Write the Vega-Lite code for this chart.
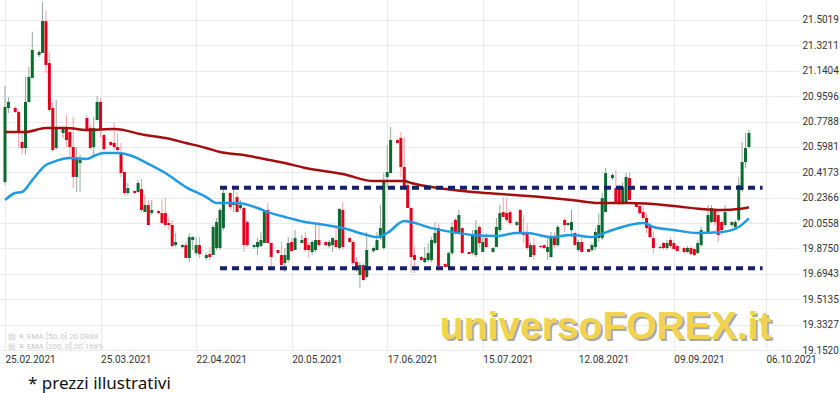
{
  "$schema": "https://vega.github.io/schema/vega-lite/v6.json",
  "width": 771,
  "height": 350,
  "autosize": {"type": "none"},
  "padding": {"left": 0, "top": 0, "right": 69, "bottom": 43},
  "background": "white",
  "config": {"view": {"stroke": null}, "font": "Roboto", "axis": {"labelOverlap": false}},
  "title": {"text": "* prezzi illustrativi", "orient": "bottom", "anchor": "start", "dx": 28, "offset": 12, "fontSize": 17, "font": "Noto Sans", "fontWeight": "normal", "color": "#111111"},
  "resolve": {"axis": {"x": "independent", "y": "independent"}},
  "datasets": {
    "candles": [
      {"date":"2021-02-25","open":20.348,"high":21.032,"low":20.327,"close":20.882},
      {"date":"2021-02-26","open":20.875,"high":20.953,"low":20.839,"close":20.918},
      {"date":"2021-02-28","open":20.875,"high":20.889,"low":20.839,"close":20.846},
      {"date":"2021-03-01","open":20.846,"high":20.861,"low":20.590,"close":20.704},
      {"date":"2021-03-02","open":20.633,"high":20.697,"low":20.547,"close":20.590},
      {"date":"2021-03-03","open":20.590,"high":21.096,"low":20.540,"close":20.918},
      {"date":"2021-03-04","open":20.918,"high":21.167,"low":20.918,"close":21.096},
      {"date":"2021-03-05","open":21.089,"high":21.416,"low":21.089,"close":21.288},
      {"date":"2021-03-07","open":21.252,"high":21.288,"low":21.238,"close":21.274},
      {"date":"2021-03-08","open":21.267,"high":21.630,"low":21.267,"close":21.494},
      {"date":"2021-03-09","open":21.494,"high":21.566,"low":21.124,"close":21.181},
      {"date":"2021-03-10","open":21.195,"high":21.274,"low":20.846,"close":20.861},
      {"date":"2021-03-11","open":20.875,"high":20.918,"low":20.562,"close":20.576},
      {"date":"2021-03-12","open":20.590,"high":20.932,"low":20.576,"close":20.733},
      {"date":"2021-03-14","open":20.697,"high":20.740,"low":20.661,"close":20.733},
      {"date":"2021-03-15","open":20.733,"high":20.825,"low":20.597,"close":20.647},
      {"date":"2021-03-16","open":20.704,"high":20.718,"low":20.526,"close":20.597},
      {"date":"2021-03-17","open":20.597,"high":20.811,"low":20.305,"close":20.384},
      {"date":"2021-03-18","open":20.384,"high":20.597,"low":20.277,"close":20.519},
      {"date":"2021-03-19","open":20.483,"high":20.540,"low":20.277,"close":20.505},
      {"date":"2021-03-21","open":20.804,"high":20.825,"low":20.704,"close":20.711},
      {"date":"2021-03-22","open":20.733,"high":20.754,"low":20.576,"close":20.590},
      {"date":"2021-03-23","open":20.597,"high":20.811,"low":20.540,"close":20.733},
      {"date":"2021-03-24","open":20.789,"high":20.960,"low":20.789,"close":20.918},
      {"date":"2021-03-25","open":20.918,"high":20.946,"low":20.668,"close":20.718},
      {"date":"2021-03-26","open":20.683,"high":20.697,"low":20.569,"close":20.583},
      {"date":"2021-03-28","open":20.633,"high":20.640,"low":20.604,"close":20.611},
      {"date":"2021-03-29","open":20.626,"high":20.775,"low":20.576,"close":20.597},
      {"date":"2021-03-30","open":20.597,"high":20.697,"low":20.555,"close":20.576},
      {"date":"2021-03-31","open":20.555,"high":20.626,"low":20.384,"close":20.412},
      {"date":"2021-04-01","open":20.419,"high":20.419,"low":20.255,"close":20.270},
      {"date":"2021-04-02","open":20.270,"high":20.341,"low":20.255,"close":20.305},
      {"date":"2021-04-04","open":20.284,"high":20.291,"low":20.263,"close":20.270},
      {"date":"2021-04-05","open":20.277,"high":20.362,"low":20.270,"close":20.341},
      {"date":"2021-04-06","open":20.298,"high":20.369,"low":20.134,"close":20.149},
      {"date":"2021-04-07","open":20.134,"high":20.255,"low":20.134,"close":20.184},
      {"date":"2021-04-08","open":20.184,"high":20.220,"low":20.042,"close":20.042},
      {"date":"2021-04-09","open":20.127,"high":20.220,"low":20.113,"close":20.149},
      {"date":"2021-04-11","open":20.141,"high":20.149,"low":20.120,"close":20.127},
      {"date":"2021-04-12","open":20.127,"high":20.220,"low":20.049,"close":20.056},
      {"date":"2021-04-13","open":20.127,"high":20.234,"low":20.028,"close":20.042},
      {"date":"2021-04-14","open":20.056,"high":20.092,"low":20.006,"close":20.042},
      {"date":"2021-04-15","open":20.042,"high":20.078,"low":19.885,"close":19.892},
      {"date":"2021-04-16","open":19.899,"high":19.985,"low":19.885,"close":19.921},
      {"date":"2021-04-18","open":19.885,"high":19.906,"low":19.878,"close":19.899},
      {"date":"2021-04-19","open":19.899,"high":19.921,"low":19.807,"close":19.807},
      {"date":"2021-04-20","open":19.807,"high":19.985,"low":19.778,"close":19.956},
      {"date":"2021-04-21","open":19.935,"high":19.963,"low":19.864,"close":19.956},
      {"date":"2021-04-22","open":19.842,"high":19.956,"low":19.828,"close":19.899},
      {"date":"2021-04-23","open":19.899,"high":19.956,"low":19.807,"close":19.835},
      {"date":"2021-04-25","open":19.807,"high":19.842,"low":19.793,"close":19.828},
      {"date":"2021-04-26","open":19.835,"high":19.885,"low":19.793,"close":19.814},
      {"date":"2021-04-27","open":19.828,"high":20.042,"low":19.828,"close":20.028},
      {"date":"2021-04-28","open":19.878,"high":20.092,"low":19.864,"close":20.063},
      {"date":"2021-04-29","open":19.878,"high":20.163,"low":19.864,"close":20.149},
      {"date":"2021-04-30","open":20.020,"high":20.305,"low":20.006,"close":20.270},
      {"date":"2021-05-02","open":20.270,"high":20.277,"low":20.149,"close":20.170},
      {"date":"2021-05-03","open":20.184,"high":20.291,"low":20.134,"close":20.206},
      {"date":"2021-05-04","open":20.241,"high":20.277,"low":20.134,"close":20.134},
      {"date":"2021-05-05","open":20.163,"high":20.220,"low":20.149,"close":20.184},
      {"date":"2021-05-06","open":20.163,"high":20.170,"low":19.850,"close":19.899},
      {"date":"2021-05-07","open":20.063,"high":20.078,"low":19.885,"close":19.899},
      {"date":"2021-05-09","open":19.885,"high":19.906,"low":19.871,"close":19.899},
      {"date":"2021-05-10","open":19.885,"high":19.949,"low":19.828,"close":19.921},
      {"date":"2021-05-11","open":19.892,"high":19.992,"low":19.885,"close":19.935},
      {"date":"2021-05-12","open":19.914,"high":20.149,"low":19.914,"close":20.141},
      {"date":"2021-05-13","open":20.149,"high":20.198,"low":19.914,"close":19.914},
      {"date":"2021-05-14","open":19.914,"high":19.921,"low":19.743,"close":19.814},
      {"date":"2021-05-16","open":19.864,"high":19.864,"low":19.842,"close":19.842},
      {"date":"2021-05-17","open":19.828,"high":19.921,"low":19.743,"close":19.757},
      {"date":"2021-05-18","open":19.771,"high":19.878,"low":19.707,"close":19.828},
      {"date":"2021-05-19","open":19.793,"high":19.956,"low":19.778,"close":19.914},
      {"date":"2021-05-20","open":19.921,"high":19.949,"low":19.850,"close":19.857},
      {"date":"2021-05-21","open":19.864,"high":20.006,"low":19.864,"close":19.949},
      {"date":"2021-05-23","open":19.914,"high":19.971,"low":19.914,"close":19.935},
      {"date":"2021-05-24","open":19.949,"high":19.992,"low":19.850,"close":19.864},
      {"date":"2021-05-25","open":19.899,"high":19.921,"low":19.807,"close":19.864},
      {"date":"2021-05-26","open":19.850,"high":19.935,"low":19.828,"close":19.921},
      {"date":"2021-05-27","open":19.864,"high":20.042,"low":19.850,"close":19.935},
      {"date":"2021-05-28","open":19.935,"high":20.063,"low":19.885,"close":19.899},
      {"date":"2021-05-30","open":19.921,"high":19.928,"low":19.892,"close":19.899},
      {"date":"2021-05-31","open":19.892,"high":19.935,"low":19.878,"close":19.921},
      {"date":"2021-06-01","open":19.899,"high":19.956,"low":19.850,"close":19.949},
      {"date":"2021-06-02","open":19.935,"high":20.020,"low":19.878,"close":19.885},
      {"date":"2021-06-03","open":19.878,"high":20.163,"low":19.864,"close":20.156},
      {"date":"2021-06-04","open":20.149,"high":20.206,"low":19.864,"close":19.885},
      {"date":"2021-06-06","open":19.949,"high":19.956,"low":19.914,"close":19.921},
      {"date":"2021-06-07","open":19.921,"high":19.935,"low":19.757,"close":19.771},
      {"date":"2021-06-08","open":19.778,"high":19.814,"low":19.707,"close":19.736},
      {"date":"2021-06-09","open":19.686,"high":19.778,"low":19.593,"close":19.757},
      {"date":"2021-06-10","open":19.757,"high":19.771,"low":19.650,"close":19.650},
      {"date":"2021-06-11","open":19.672,"high":19.992,"low":19.664,"close":19.864},
      {"date":"2021-06-13","open":19.857,"high":19.885,"low":19.842,"close":19.878},
      {"date":"2021-06-14","open":19.864,"high":19.992,"low":19.864,"close":19.935},
      {"date":"2021-06-15","open":19.949,"high":20.184,"low":19.935,"close":20.020},
      {"date":"2021-06-16","open":19.878,"high":20.412,"low":19.864,"close":20.348},
      {"date":"2021-06-17","open":20.384,"high":20.611,"low":20.305,"close":20.419},
      {"date":"2021-06-18","open":20.412,"high":20.740,"low":20.412,"close":20.647},
      {"date":"2021-06-20","open":20.647,"high":20.654,"low":20.619,"close":20.626},
      {"date":"2021-06-21","open":20.661,"high":20.704,"low":20.384,"close":20.455},
      {"date":"2021-06-22","open":20.455,"high":20.668,"low":20.291,"close":20.305},
      {"date":"2021-06-23","open":20.327,"high":20.362,"low":20.163,"close":20.163},
      {"date":"2021-06-24","open":20.163,"high":20.170,"low":19.700,"close":19.814},
      {"date":"2021-06-25","open":19.828,"high":19.885,"low":19.700,"close":19.793},
      {"date":"2021-06-27","open":19.814,"high":19.821,"low":19.786,"close":19.793},
      {"date":"2021-06-28","open":19.778,"high":19.885,"low":19.771,"close":19.807},
      {"date":"2021-06-29","open":19.793,"high":19.914,"low":19.778,"close":19.842},
      {"date":"2021-06-30","open":19.793,"high":19.956,"low":19.778,"close":19.935},
      {"date":"2021-07-01","open":19.914,"high":20.063,"low":19.899,"close":19.985},
      {"date":"2021-07-02","open":20.020,"high":20.056,"low":19.743,"close":19.750},
      {"date":"2021-07-04","open":19.764,"high":19.771,"low":19.743,"close":19.743},
      {"date":"2021-07-05","open":19.743,"high":19.850,"low":19.743,"close":19.842},
      {"date":"2021-07-06","open":19.842,"high":20.063,"low":19.828,"close":20.028},
      {"date":"2021-07-07","open":20.078,"high":20.092,"low":19.971,"close":19.985},
      {"date":"2021-07-08","open":19.992,"high":20.149,"low":19.985,"close":20.113},
      {"date":"2021-07-09","open":20.020,"high":20.028,"low":19.842,"close":19.842},
      {"date":"2021-07-11","open":19.850,"high":19.850,"low":19.835,"close":19.835},
      {"date":"2021-07-12","open":19.842,"high":20.006,"low":19.828,"close":19.971},
      {"date":"2021-07-13","open":19.828,"high":20.078,"low":19.814,"close":20.006},
      {"date":"2021-07-14","open":20.028,"high":20.042,"low":19.878,"close":19.914},
      {"date":"2021-07-15","open":19.850,"high":19.971,"low":19.850,"close":19.921},
      {"date":"2021-07-16","open":19.949,"high":19.985,"low":19.878,"close":19.885},
      {"date":"2021-07-18","open":19.850,"high":19.885,"low":19.842,"close":19.878},
      {"date":"2021-07-19","open":19.885,"high":20.092,"low":19.885,"close":20.028},
      {"date":"2021-07-20","open":20.006,"high":20.184,"low":19.992,"close":20.127},
      {"date":"2021-07-21","open":20.134,"high":20.241,"low":20.099,"close":20.099},
      {"date":"2021-07-22","open":20.127,"high":20.234,"low":20.063,"close":20.078},
      {"date":"2021-07-23","open":20.134,"high":20.149,"low":20.042,"close":20.056},
      {"date":"2021-07-25","open":20.042,"high":20.070,"low":20.035,"close":20.063},
      {"date":"2021-07-26","open":20.149,"high":20.156,"low":19.992,"close":19.992},
      {"date":"2021-07-27","open":19.992,"high":20.113,"low":19.914,"close":19.971},
      {"date":"2021-07-28","open":19.985,"high":20.056,"low":19.864,"close":19.878},
      {"date":"2021-07-29","open":19.814,"high":19.914,"low":19.814,"close":19.899},
      {"date":"2021-07-30","open":19.899,"high":19.949,"low":19.793,"close":19.828},
      {"date":"2021-08-01","open":19.892,"high":19.899,"low":19.878,"close":19.885},
      {"date":"2021-08-02","open":19.899,"high":19.906,"low":19.871,"close":19.878},
      {"date":"2021-08-03","open":19.850,"high":19.949,"low":19.793,"close":19.885},
      {"date":"2021-08-04","open":19.814,"high":19.992,"low":19.807,"close":19.956},
      {"date":"2021-08-05","open":19.956,"high":19.992,"low":19.878,"close":19.899},
      {"date":"2021-08-06","open":19.899,"high":20.042,"low":19.885,"close":20.028},
      {"date":"2021-08-08","open":20.078,"high":20.092,"low":19.992,"close":20.042},
      {"date":"2021-08-09","open":20.042,"high":20.063,"low":20.035,"close":20.056},
      {"date":"2021-08-10","open":20.006,"high":20.149,"low":19.956,"close":20.063},
      {"date":"2021-08-11","open":19.985,"high":19.992,"low":19.899,"close":19.899},
      {"date":"2021-08-12","open":19.864,"high":19.935,"low":19.850,"close":19.921},
      {"date":"2021-08-13","open":19.921,"high":19.956,"low":19.842,"close":19.850},
      {"date":"2021-08-15","open":19.871,"high":19.871,"low":19.850,"close":19.850},
      {"date":"2021-08-16","open":19.864,"high":19.914,"low":19.850,"close":19.899},
      {"date":"2021-08-17","open":19.885,"high":20.020,"low":19.864,"close":19.992},
      {"date":"2021-08-18","open":19.949,"high":20.127,"low":19.921,"close":20.042},
      {"date":"2021-08-19","open":19.949,"high":20.270,"low":19.935,"close":20.234},
      {"date":"2021-08-20","open":20.134,"high":20.448,"low":20.134,"close":20.412},
      {"date":"2021-08-22","open":20.376,"high":20.412,"low":20.362,"close":20.398},
      {"date":"2021-08-23","open":20.305,"high":20.433,"low":20.198,"close":20.206},
      {"date":"2021-08-24","open":20.305,"high":20.327,"low":20.184,"close":20.206},
      {"date":"2021-08-25","open":20.206,"high":20.348,"low":20.184,"close":20.312},
      {"date":"2021-08-26","open":20.206,"high":20.412,"low":20.198,"close":20.384},
      {"date":"2021-08-27","open":20.376,"high":20.419,"low":20.220,"close":20.220},
      {"date":"2021-08-29","open":20.206,"high":20.206,"low":20.170,"close":20.170},
      {"date":"2021-08-30","open":20.177,"high":20.198,"low":20.113,"close":20.127},
      {"date":"2021-08-31","open":20.134,"high":20.170,"low":20.078,"close":20.092},
      {"date":"2021-09-01","open":20.092,"high":20.127,"low":19.985,"close":20.020},
      {"date":"2021-09-02","open":20.042,"high":20.063,"low":19.949,"close":19.956},
      {"date":"2021-09-03","open":19.949,"high":19.992,"low":19.842,"close":19.878},
      {"date":"2021-09-05","open":19.878,"high":19.899,"low":19.871,"close":19.885},
      {"date":"2021-09-06","open":19.914,"high":19.921,"low":19.864,"close":19.878},
      {"date":"2021-09-07","open":19.878,"high":19.935,"low":19.864,"close":19.914},
      {"date":"2021-09-08","open":19.935,"high":19.956,"low":19.878,"close":19.892},
      {"date":"2021-09-09","open":19.914,"high":19.935,"low":19.864,"close":19.871},
      {"date":"2021-09-10","open":19.892,"high":19.899,"low":19.850,"close":19.857},
      {"date":"2021-09-12","open":19.878,"high":19.885,"low":19.835,"close":19.850},
      {"date":"2021-09-13","open":19.850,"high":19.892,"low":19.842,"close":19.878},
      {"date":"2021-09-14","open":19.878,"high":19.892,"low":19.828,"close":19.835},
      {"date":"2021-09-15","open":19.871,"high":19.885,"low":19.821,"close":19.828},
      {"date":"2021-09-16","open":19.842,"high":19.935,"low":19.835,"close":19.914},
      {"date":"2021-09-17","open":19.899,"high":20.028,"low":19.885,"close":20.006},
      {"date":"2021-09-19","open":19.992,"high":20.184,"low":19.985,"close":20.113},
      {"date":"2021-09-20","open":20.063,"high":20.184,"low":20.056,"close":20.163},
      {"date":"2021-09-21","open":20.149,"high":20.163,"low":20.042,"close":20.063},
      {"date":"2021-09-22","open":20.113,"high":20.149,"low":19.921,"close":19.971},
      {"date":"2021-09-23","open":20.063,"high":20.078,"low":19.971,"close":20.006},
      {"date":"2021-09-24","open":20.042,"high":20.184,"low":20.028,"close":20.134},
      {"date":"2021-09-26","open":20.042,"high":20.070,"low":20.028,"close":20.063},
      {"date":"2021-09-27","open":20.028,"high":20.078,"low":20.020,"close":20.063},
      {"date":"2021-09-28","open":20.078,"high":20.384,"low":20.063,"close":20.327},
      {"date":"2021-09-29","open":20.291,"high":20.633,"low":20.277,"close":20.490},
      {"date":"2021-09-30","open":20.490,"high":20.697,"low":20.448,"close":20.590},
      {"date":"2021-10-01","open":20.597,"high":20.718,"low":20.590,"close":20.697}
    ],
    "ema": [
      {"date":"2021-02-25","series":"EMA200","value":20.704},
      {"date":"2021-03-03","series":"EMA200","value":20.704},
      {"date":"2021-03-09","series":"EMA200","value":20.733},
      {"date":"2021-03-15","series":"EMA200","value":20.733},
      {"date":"2021-03-21","series":"EMA200","value":20.718},
      {"date":"2021-03-29","series":"EMA200","value":20.725},
      {"date":"2021-04-07","series":"EMA200","value":20.683},
      {"date":"2021-04-13","series":"EMA200","value":20.661},
      {"date":"2021-04-19","series":"EMA200","value":20.626},
      {"date":"2021-04-25","series":"EMA200","value":20.590},
      {"date":"2021-04-29","series":"EMA200","value":20.562},
      {"date":"2021-05-06","series":"EMA200","value":20.540},
      {"date":"2021-05-12","series":"EMA200","value":20.512},
      {"date":"2021-05-18","series":"EMA200","value":20.483},
      {"date":"2021-05-24","series":"EMA200","value":20.448},
      {"date":"2021-06-04","series":"EMA200","value":20.405},
      {"date":"2021-06-13","series":"EMA200","value":20.355},
      {"date":"2021-06-22","series":"EMA200","value":20.355},
      {"date":"2021-06-24","series":"EMA200","value":20.341},
      {"date":"2021-07-02","series":"EMA200","value":20.305},
      {"date":"2021-07-12","series":"EMA200","value":20.277},
      {"date":"2021-07-20","series":"EMA200","value":20.263},
      {"date":"2021-08-01","series":"EMA200","value":20.241},
      {"date":"2021-08-10","series":"EMA200","value":20.220},
      {"date":"2021-08-18","series":"EMA200","value":20.198},
      {"date":"2021-08-27","series":"EMA200","value":20.198},
      {"date":"2021-09-09","series":"EMA200","value":20.177},
      {"date":"2021-09-17","series":"EMA200","value":20.156},
      {"date":"2021-09-23","series":"EMA200","value":20.149},
      {"date":"2021-09-28","series":"EMA200","value":20.156},
      {"date":"2021-10-01","series":"EMA200","value":20.169},
      {"date":"2021-02-25","series":"EMA50","value":20.220},
      {"date":"2021-02-28","series":"EMA50","value":20.270},
      {"date":"2021-03-02","series":"EMA50","value":20.277},
      {"date":"2021-03-05","series":"EMA50","value":20.362},
      {"date":"2021-03-09","series":"EMA50","value":20.469},
      {"date":"2021-03-11","series":"EMA50","value":20.490},
      {"date":"2021-03-16","series":"EMA50","value":20.519},
      {"date":"2021-03-21","series":"EMA50","value":20.512},
      {"date":"2021-03-23","series":"EMA50","value":20.533},
      {"date":"2021-03-26","series":"EMA50","value":20.555},
      {"date":"2021-03-30","series":"EMA50","value":20.555},
      {"date":"2021-04-04","series":"EMA50","value":20.526},
      {"date":"2021-04-07","series":"EMA50","value":20.490},
      {"date":"2021-04-13","series":"EMA50","value":20.412},
      {"date":"2021-04-19","series":"EMA50","value":20.312},
      {"date":"2021-04-25","series":"EMA50","value":20.241},
      {"date":"2021-04-28","series":"EMA50","value":20.198},
      {"date":"2021-05-04","series":"EMA50","value":20.198},
      {"date":"2021-05-10","series":"EMA50","value":20.163},
      {"date":"2021-05-13","series":"EMA50","value":20.134},
      {"date":"2021-05-18","series":"EMA50","value":20.099},
      {"date":"2021-05-24","series":"EMA50","value":20.063},
      {"date":"2021-05-30","series":"EMA50","value":20.042},
      {"date":"2021-06-04","series":"EMA50","value":20.020},
      {"date":"2021-06-10","series":"EMA50","value":19.978},
      {"date":"2021-06-14","series":"EMA50","value":19.956},
      {"date":"2021-06-17","series":"EMA50","value":19.985},
      {"date":"2021-06-22","series":"EMA50","value":20.070},
      {"date":"2021-06-24","series":"EMA50","value":20.063},
      {"date":"2021-06-30","series":"EMA50","value":20.020},
      {"date":"2021-07-06","series":"EMA50","value":19.992},
      {"date":"2021-07-12","series":"EMA50","value":19.971},
      {"date":"2021-07-19","series":"EMA50","value":19.963},
      {"date":"2021-07-25","series":"EMA50","value":19.985},
      {"date":"2021-07-28","series":"EMA50","value":19.985},
      {"date":"2021-08-04","series":"EMA50","value":19.956},
      {"date":"2021-08-10","series":"EMA50","value":19.971},
      {"date":"2021-08-16","series":"EMA50","value":19.956},
      {"date":"2021-08-18","series":"EMA50","value":19.971},
      {"date":"2021-08-22","series":"EMA50","value":20.006},
      {"date":"2021-08-27","series":"EMA50","value":20.042},
      {"date":"2021-08-31","series":"EMA50","value":20.056},
      {"date":"2021-09-03","series":"EMA50","value":20.028},
      {"date":"2021-09-09","series":"EMA50","value":20.006},
      {"date":"2021-09-16","series":"EMA50","value":19.985},
      {"date":"2021-09-23","series":"EMA50","value":19.992},
      {"date":"2021-09-28","series":"EMA50","value":20.028},
      {"date":"2021-10-01","series":"EMA50","value":20.089}
    ],
    "levels": [
      {"date":"2021-04-29","end":"2021-10-05","level":20.307},
      {"date":"2021-04-29","end":"2021-10-05","level":19.734}
    ]
  },
  "layer": [
    {
      "data": {"name": "candles"},
      "mark": {"type": "rule", "strokeWidth": 1},
      "encoding": {
        "x": {"field": "date", "type": "temporal", "title": null,
          "scale": {"type": "utc", "domain": [{"year":2021,"month":2,"date":25,"utc":true},{"year":2021,"month":10,"date":6,"utc":true}]},
          "axis": {"values": [
            {"year":2021,"month":2,"date":25,"utc":true},{"year":2021,"month":3,"date":25,"utc":true},{"year":2021,"month":4,"date":22,"utc":true},
            {"year":2021,"month":5,"date":20,"utc":true},{"year":2021,"month":6,"date":17,"utc":true},{"year":2021,"month":7,"date":15,"utc":true},
            {"year":2021,"month":8,"date":12,"utc":true},{"year":2021,"month":9,"date":9,"utc":true},{"year":2021,"month":10,"date":6,"utc":true}],
            "format": "%d.%m.%Y", "labelAlign": "left", "labelPadding": 4, "ticks": false, "domain": false,
            "grid": true, "gridColor": "#ebebeb", "gridWidth": 1, "labelFontSize": 10, "labelColor": "#333333",
            "labelFont": "Roboto", "labelOverlap": false, "labelFlush": false, "labelBound": false}},
        "y": {"field": "low", "type": "quantitative", "title": null,
          "scale": {"domain": [19.152, 21.644], "nice": false, "zero": false},
          "axis": {"orient": "right", "values": [19.152,19.3327,19.5135,19.6943,19.875,20.0558,20.2366,20.4173,20.5981,20.7788,20.9596,21.1404,21.3211,21.5019],
            "format": ".4f", "tickSize": 28, "tickColor": "#ebebeb", "domain": false, "grid": true, "gridColor": "#ebebeb",
            "labelPadding": 3, "labelFontSize": 10, "labelColor": "#333333", "labelFont": "Roboto",
            "labelOverlap": false, "labelFlush": false, "labelBound": false}},
        "y2": {"field": "high"},
        "color": {"condition": {"test": "datum.close >= datum.open", "value": "#93a89a"}, "value": "#f4a1a9"}
      }
    },
    {
      "data": {"name": "candles"},
      "mark": {"type": "bar", "size": 3},
      "encoding": {
        "x": {"field": "date", "type": "temporal", "title": null, "axis": null,
          "scale": {"type": "utc", "domain": [{"year":2021,"month":2,"date":25,"utc":true},{"year":2021,"month":10,"date":6,"utc":true}]}},
        "y": {"field": "open", "type": "quantitative", "title": null, "axis": null, "scale": {"domain": [19.152, 21.644], "nice": false, "zero": false}},
        "y2": {"field": "close"},
        "color": {"condition": {"test": "datum.close >= datum.open", "value": "#0b6a2f"}, "value": "#e2001a"}
      }
    },
    {
      "data": {"name": "ema"},
      "mark": {"type": "line", "strokeWidth": 2.5, "interpolate": "monotone"},
      "encoding": {
        "x": {"field": "date", "type": "temporal", "title": null, "axis": null,
          "scale": {"type": "utc", "domain": [{"year":2021,"month":2,"date":25,"utc":true},{"year":2021,"month":10,"date":6,"utc":true}]}},
        "y": {"field": "value", "type": "quantitative", "title": null, "axis": null, "scale": {"domain": [19.152, 21.644], "nice": false, "zero": false}},
        "color": {"field": "series", "type": "nominal", "scale": {"domain": ["EMA50", "EMA200"], "range": ["#1f9be6", "#a30f0f"]}, "legend": null}
      }
    },
    {
      "data": {"name": "levels"},
      "mark": {"type": "rule", "strokeWidth": 4, "strokeDash": [7, 5], "color": "#15206d"},
      "encoding": {
        "x": {"field": "date", "type": "temporal", "title": null, "axis": null,
          "scale": {"type": "utc", "domain": [{"year":2021,"month":2,"date":25,"utc":true},{"year":2021,"month":10,"date":6,"utc":true}]}},
        "x2": {"field": "end"},
        "y": {"field": "level", "type": "quantitative", "title": null, "axis": null, "scale": {"domain": [19.152, 21.644], "nice": false, "zero": false}}
      }
    },
    {
      "data": {"values": [{}]},
      "mark": {"type": "text", "text": "universoFOREX.it", "font": "Liberation Sans", "fontWeight": "bold", "fontSize": 39, "color": "#a8a8a8", "align": "center", "baseline": "middle", "dx": 2, "dy": 2},
      "encoding": {
        "x": {"datum": {"year":2021,"month":8,"date":20,"utc":true}, "type": "temporal", "axis": null},
        "y": {"datum": 19.316, "type": "quantitative", "axis": null}
      }
    },
    {
      "data": {"values": [{}]},
      "mark": {"type": "text", "text": "universoFOREX.it", "font": "Liberation Sans", "fontWeight": "bold", "fontSize": 39, "color": "#f2d34e", "align": "center", "baseline": "middle"},
      "encoding": {
        "x": {"datum": {"year":2021,"month":8,"date":20,"utc":true}, "type": "temporal", "axis": null},
        "y": {"datum": 19.316, "type": "quantitative", "axis": null}
      }
    },
    {
      "data": {"values": [{}]},
      "mark": {"type": "text", "text": "▤ ✕ EMA [50, 0] 20.0888", "fontSize": 8, "color": "#c9c9c9", "align": "left", "baseline": "middle", "dx": 3},
      "encoding": {
        "x": {"datum": {"year":2021,"month":2,"date":25,"utc":true}, "type": "temporal", "axis": null},
        "y": {"datum": 19.245, "type": "quantitative", "axis": null}
      }
    },
    {
      "data": {"values": [{}]},
      "mark": {"type": "text", "text": "▤ ✕ EMA [200, 0] 20.1689", "fontSize": 8, "color": "#c9c9c9", "align": "left", "baseline": "middle", "dx": 3},
      "encoding": {
        "x": {"datum": {"year":2021,"month":2,"date":25,"utc":true}, "type": "temporal", "axis": null},
        "y": {"datum": 19.173, "type": "quantitative", "axis": null}
      }
    }
  ]
}
